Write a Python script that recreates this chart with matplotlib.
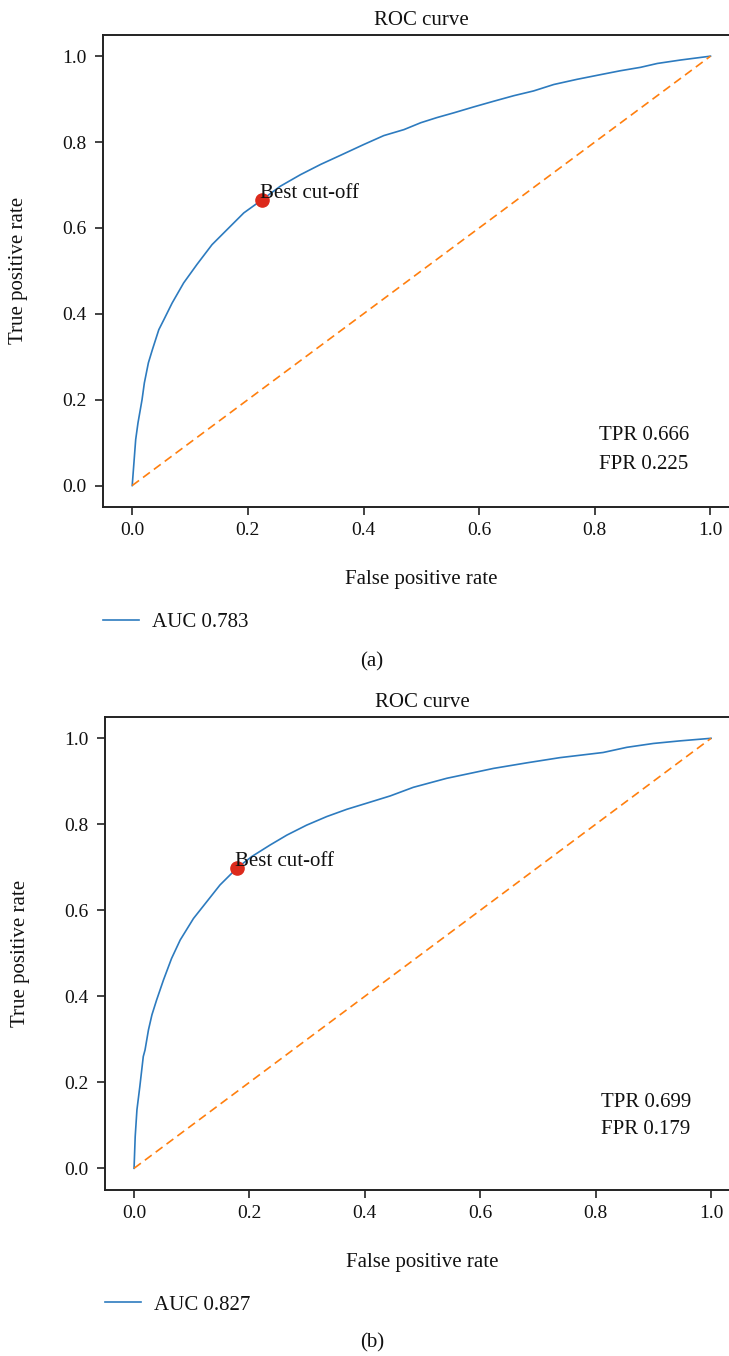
import matplotlib
matplotlib.use("Agg")
import matplotlib.pyplot as plt

plt.rcParams['font.family'] = ['Liberation Serif', 'DejaVu Serif']

# ---- data ----
fpr_a = [0, 0.006, 0.010, 0.017, 0.021, 0.028, 0.035, 0.046, 0.055, 0.069, 0.089,
         0.112, 0.138, 0.164, 0.193, 0.225, 0.256, 0.291, 0.326, 0.360, 0.400,
         0.435, 0.470, 0.499, 0.527, 0.556, 0.591, 0.625, 0.660, 0.694, 0.729,
         0.769, 0.810, 0.844, 0.879, 0.908, 0.948, 1.0]
tpr_a = [0, 0.107, 0.146, 0.200, 0.239, 0.286, 0.317, 0.363, 0.387, 0.425, 0.472,
         0.515, 0.561, 0.596, 0.635, 0.666, 0.697, 0.724, 0.748, 0.769, 0.794,
         0.815, 0.829, 0.845, 0.857, 0.868, 0.882, 0.895, 0.908, 0.919, 0.934,
         0.946, 0.957, 0.966, 0.974, 0.983, 0.991, 1.0]

fpr_b = [0, 0.002, 0.005, 0.010, 0.016, 0.019, 0.025, 0.031, 0.039, 0.051, 0.065,
         0.080, 0.103, 0.126, 0.149, 0.179, 0.204, 0.236, 0.265, 0.299, 0.334,
         0.369, 0.403, 0.444, 0.484, 0.542, 0.588, 0.623, 0.681, 0.738, 0.813,
         0.854, 0.900, 0.946, 1.0]
tpr_b = [0, 0.074, 0.136, 0.190, 0.260, 0.275, 0.322, 0.357, 0.391, 0.438, 0.488,
         0.531, 0.581, 0.620, 0.659, 0.699, 0.725, 0.752, 0.775, 0.798, 0.818,
         0.835, 0.849, 0.866, 0.886, 0.907, 0.920, 0.930, 0.943, 0.955, 0.967,
         0.979, 0.988, 0.994, 1.0]

chance = [0, 1]

best_a = (0.225, 0.666)
best_b = (0.179, 0.699)
auc_labels = ["AUC 0.783", "AUC 0.827"]
tpr_labels = ["TPR 0.666", "TPR 0.699"]
fpr_labels = ["FPR 0.225", "FPR 0.179"]
panel_labels = ["(a)", "(b)"]
ticks = [0.0, 0.2, 0.4, 0.6, 0.8, 1.0]
tick_labels = ["0.0", "0.2", "0.4", "0.6", "0.8", "1.0"]

W, H = 729, 1356
fig = plt.figure(figsize=(W / 100, H / 100), dpi=100)

def px_axes(left, top, right, bottom):
    return [left / W, (H - bottom) / H, (right - left) / W, (bottom - top) / H]

panels = [
    dict(rect=px_axes(103.3, 34.7, 739.4, 507.0), fpr=fpr_a, tpr=tpr_a, best=best_a,
         txt_x=0.808, tpr_y=0.105, fpr_y=0.0395, label_y=662.0),
    dict(rect=px_axes(105.2, 716.8, 739.9, 1189.8), fpr=fpr_b, tpr=tpr_b, best=best_b,
         txt_x=0.810, tpr_y=0.143, fpr_y=0.080, label_y=1343.0),
]

FS = 15
BLUE = '#2d7bbf'
ORANGE = '#ff7f0e'

for i, p in enumerate(panels):
    ax = fig.add_axes(p['rect'])
    ax.plot(p['fpr'], p['tpr'], color=BLUE, lw=1.2, label=auc_labels[i])
    ax.plot(chance, chance, color=ORANGE, lw=1.2, linestyle=(0, (5.1, 3.0)))
    ax.plot([p['best'][0]], [p['best'][1]], 'o', color='#dc2a1c', ms=9.5, zorder=5)
    ax.annotate('Best cut-off', xy=p['best'], xytext=(-2.0, 1.0),
                textcoords='offset points', fontsize=FS, ha='left', va='baseline',
                color='#111111', zorder=6)
    ax.text(p['txt_x'], p['tpr_y'], tpr_labels[i], fontsize=FS, va='baseline', color='#111111')
    ax.text(p['txt_x'], p['fpr_y'], fpr_labels[i], fontsize=FS, va='baseline', color='#111111')

    ax.set_xlim(-0.05, 1.05)
    ax.set_ylim(-0.05, 1.05)
    ax.set_xticks(ticks)
    ax.set_xticklabels(tick_labels)
    ax.set_yticks(ticks)
    ax.set_yticklabels(tick_labels)
    ax.tick_params(direction='out', length=6, width=1.1, labelsize=14, colors='#111111')
    ax.tick_params(axis='x', pad=5)
    ax.tick_params(axis='y', pad=6)
    for s in ax.spines.values():
        s.set_linewidth(1.4)
        s.set_color('#222222')

    ax.set_title('ROC curve', fontsize=FS, pad=7, color='#111111')
    ax.set_xlabel('False positive rate', fontsize=FS, color='#111111')
    ax.xaxis.label.set_va('baseline')
    ax.xaxis.set_label_coords(0.5, -0.163)
    ax.set_ylabel('True positive rate', fontsize=FS, color='#111111')
    ax.yaxis.label.set_va('center')
    ax.yaxis.set_label_coords(-0.134, 0.5)

    leg = ax.legend(loc='center left', bbox_to_anchor=(0.0, -0.2435), frameon=False,
                    fontsize=FS, handlelength=1.73, handletextpad=0.63,
                    borderpad=0, borderaxespad=0)
    for t in leg.get_texts():
        t.set_color('#111111')

    fig.text(372 / W, (H - p['label_y']) / H, panel_labels[i], fontsize=FS,
             ha='center', va='center', color='#111111')

fig.savefig('out.png', dpi=100)
